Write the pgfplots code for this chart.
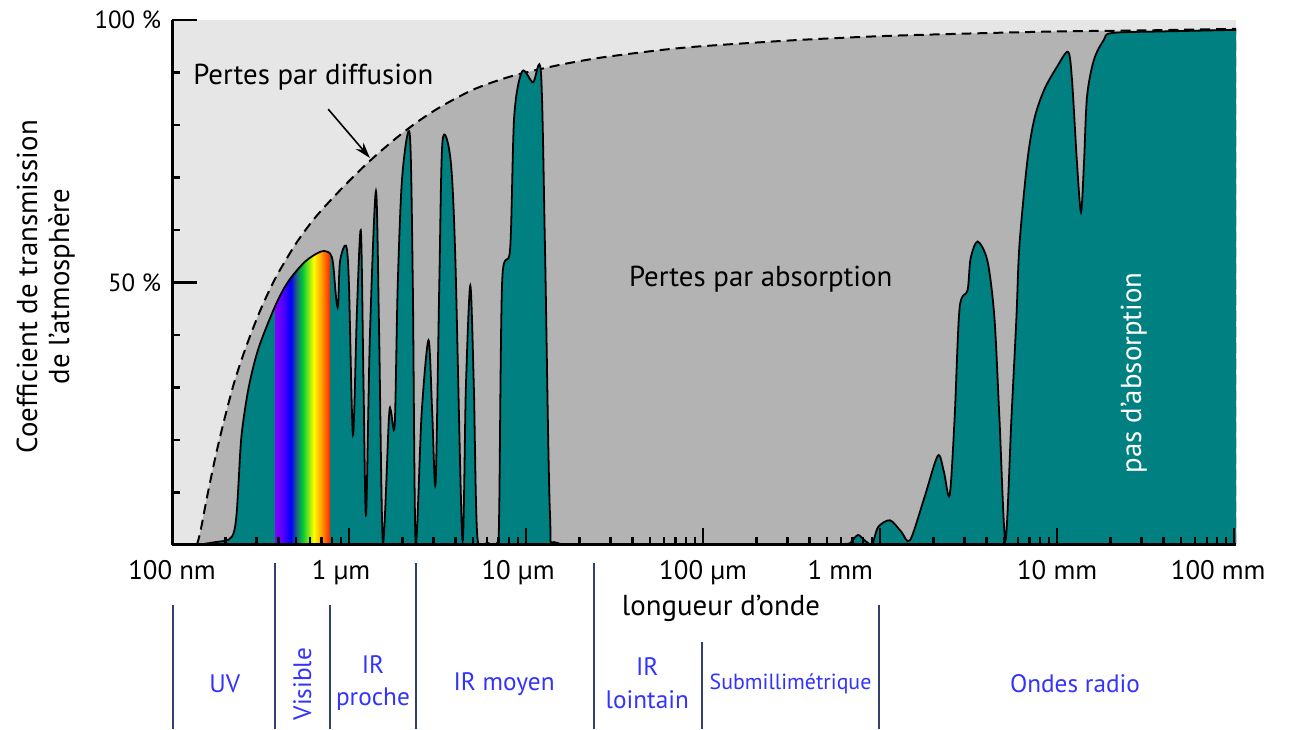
\documentclass[border=0pt]{standalone}
\usepackage{pgfplots}
\pgfplotsset{compat=1.18}
\usepackage{pgfplotstable}
\usepackage{fontspec}
\setmainfont{PT Sans}
\usetikzlibrary{arrows.meta}
\definecolor{tealc}{HTML}{008080}
\definecolor{dgray}{HTML}{B3B3B3}
\definecolor{lgray}{HTML}{E6E6E6}
\definecolor{lblue}{HTML}{3333FF}
\definecolor{navy}{HTML}{33406E}
\definecolor{c1}{HTML}{8000FF}
\definecolor{c2}{HTML}{5A00FF}
\definecolor{c3}{HTML}{0000FF}
\definecolor{c4}{HTML}{206080}
\definecolor{c5}{HTML}{00CC33}
\definecolor{c6}{HTML}{FFFF00}
\definecolor{c7}{HTML}{FFA000}
\definecolor{c8}{HTML}{FF2000}
\pgfdeclarehorizontalshading{rainbow}{100bp}{color(0bp)=(c1); color(25bp)=(c1); color(31bp)=(c2); color(39bp)=(c3); color(44bp)=(c4); color(50bp)=(c5); color(60bp)=(c6); color(67bp)=(c7); color(75bp)=(c8); color(100bp)=(c8)}

% x = decades above 100 nm (log10(lambda/100 nm)), y = transmission in %
\pgfplotstableread{
u y
0.140 0
0.160 2.5
0.200 9.5
0.250 17.5
0.300 24.5
0.350 30.8
0.400 36.0
0.450 40.6
0.500 44.8
0.550 48.5
0.600 51.8
0.700 57.4
0.800 62.0
0.900 65.8
1.000 69.3
1.100 72.6
1.200 75.6
1.300 78.4
1.400 80.9
1.500 83.1
1.600 85.0
1.700 86.7
1.800 88.0
1.900 89.1
2.000 90.0
2.200 91.5
2.400 92.7
2.600 93.6
2.800 94.4
3.000 95.0
3.500 96.1
4.000 96.9
4.500 97.4
5.000 97.8
5.500 98.0
6.011 98.3
}\scat

\pgfplotstableread{
u y
0.000 0
0.124 0
0.180 0.2
0.236 0.5
0.320 1.0
0.350 2.5
0.365 6
0.376 12
0.393 21
0.433 30
0.489 37.5
0.584 45.6
0.657 50.2
0.753 54.0
0.843 55.9
0.893 55.5
0.910 53.5
0.927 47.0
0.938 45.6
0.949 54.0
0.983 57.0
0.999 50
1.022 21.0
1.045 45
1.067 59.7
1.082 30
1.096 5.7
1.118 40
1.152 67.4
1.170 40
1.191 0.6
1.225 24
1.236 25.6
1.258 22.9
1.275 49.4
1.300 70
1.343 78.2
1.360 50
1.376 0.6
1.410 25
1.449 39.0
1.470 25
1.489 11.9
1.510 50
1.528 76.9
1.573 73.5
1.600 55
1.640 1.1
1.660 30
1.685 49.4
1.705 30
1.725 1.5
1.781 0.4
1.837 0.4
1.848 5.9
1.865 50.2
1.910 56.4
1.933 81.6
1.978 90.2
2.039 88.1
2.084 90.0
2.107 56.4
2.135 5.9
2.174 0.4
2.500 0.2
3.000 0.2
3.500 0.2
3.803 0.2
3.840 0.8
3.876 1.9
3.915 0.8
3.955 0.2
3.989 3.4
4.056 4.7
4.120 2.5
4.169 0.9
4.250 9
4.326 17.0
4.360 14
4.393 9.5
4.421 24.2
4.449 45.1
4.494 48.5
4.511 54.5
4.551 57.8
4.607 54.0
4.646 43.2
4.674 24.2
4.708 0.9
4.742 24.2
4.770 43.2
4.787 57.0
4.831 72.9
4.871 81.1
4.927 86.7
5.000 91.1
5.062 93.9
5.084 88.6
5.112 72.9
5.135 63.4
5.152 72.9
5.169 85.4
5.208 92.4
5.264 96.2
5.309 97.5
5.600 97.8
6.011 98.1
}\trans

\pgfplotstableread{
u y
0.584 45.6
0.657 50.2
0.753 54.0
0.843 55.9
0.893 55.5
}\vis

\begin{document}
\begin{tikzpicture}
\begin{axis}[
  name=ax,
  scale only axis, width=535pt, height=264pt,
  xmin=0, xmax=6.011, ymin=0, ymax=100,
  axis x line*=bottom, axis y line*=left,
  x axis line style={-, line width=1.5pt},
  y axis line style={-, line width=1.5pt},
  axis background/.style={fill=lgray},
  axis on top,
  clip mode=individual,
  tick align=inside,
  xtick={0,1,2,3,4,5,6},
  xticklabels={100 nm, {1 µm\hspace*{8pt}}, {10 µm\hspace*{8pt}}, 100 µm, {1 mm\hspace*{40pt}}, 10 mm, {100 mm\hspace*{16pt}}},
  minor xtick={0.301,0.477,0.602,0.699,0.778,0.845,0.903,0.954,1.301,1.477,1.602,1.699,1.778,1.845,1.903,1.954,2.301,2.477,2.602,2.699,2.778,2.845,2.903,2.954,3.301,3.477,3.602,3.699,3.778,3.845,3.903,3.954,4.301,4.477,4.602,4.699,4.778,4.845,4.903,4.954,5.301,5.477,5.602,5.699,5.778,5.845,5.903,5.954},
  ytick={0,50,100},
  yticklabels={,50 \%,100 \%},
  minor ytick={10,20,30,40,60,70,80,90},
  major tick length=8.5pt,
  minor tick length=4pt,
  tick style={line width=1.2pt, black},
  ticklabel style={font=\fontsize{13.5}{15}\selectfont},
  xticklabel style={yshift=-4pt},
  yticklabel style={xshift=-2pt, font=\fontsize{12.5}{15}\selectfont},
]
\addplot[fill=dgray, draw=black, line width=1pt, dash pattern=on 5pt off 3pt, smooth] table {\scat} \closedcycle;
\addplot[fill=tealc, draw=none, smooth, tension=0.5] table {\trans} \closedcycle;
\addplot[shade, shading=rainbow, draw=none, smooth, tension=0.5] table {\vis} \closedcycle;
\addplot[draw=black, line width=0.9pt, smooth, tension=0.5] table {\trans};

\draw[line width=1.2pt] (axis cs:0,50) -- ++(12.5pt,0);
\draw[line width=1.2pt] (axis cs:0,100) -- ++(12.5pt,0);

\node[font=\fontsize{14.5}{16}\selectfont] at (axis cs:0.798,89.0) {Pertes par diffusion};
\draw[-{Stealth[length=8pt,width=5pt]}, line width=0.8pt] (axis cs:0.882,83.0) -- (axis cs:1.118,73.7);
\node[font=\fontsize{14.5}{16}\selectfont] at (axis cs:3.326,50.6) {Pertes par absorption};
\node[font=\fontsize{14.5}{16}\selectfont, rotate=90, text=white] at (axis cs:5.433,32.8) {pas d'absorption};

\node[font=\fontsize{14.5}{16}\selectfont] at (axis cs:3.101,-12.1) {longueur d'onde};
\node[rotate=90, align=center, font=\fontsize{14.5}{16}\selectfont] at (rel axis cs:-0.1187,0.492) {Coefficient de transmission\\de l'atmosphère};

\draw[navy, line width=1pt] (axis cs:0.006,-11.4) -- (axis cs:0.006,-35);
\draw[navy, line width=1pt] (axis cs:0.584,-3.4) -- (axis cs:0.584,-35);
\draw[navy, line width=1pt] (axis cs:0.893,-11.4) -- (axis cs:0.893,-35);
\draw[navy, line width=1pt] (axis cs:1.376,-3.4) -- (axis cs:1.376,-35);
\draw[navy, line width=1pt] (axis cs:2.382,-3.4) -- (axis cs:2.382,-35);
\draw[navy, line width=1pt] (axis cs:2.994,-18.4) -- (axis cs:2.994,-35);
\draw[navy, line width=1pt] (axis cs:3.994,-11.4) -- (axis cs:3.994,-35);

\begin{scope}[every node/.style={text=lblue, font=\fontsize{12.7}{16.5}\selectfont, align=center}]
\node at (axis cs:0.298,-26.5) {UV};
\node[rotate=90] at (axis cs:0.736,-26.5) {Visible};
\node at (axis cs:1.135,-26.3) {IR\\proche};
\node at (axis cs:1.876,-26.5) {IR moyen};
\node at (axis cs:2.685,-26.3) {IR\\lointain};
\node[font=\fontsize{11}{13}\selectfont] at (axis cs:3.494,-26.5) {Submillimétrique};
\node at (axis cs:5.101,-26.5) {Ondes radio};
\end{scope}
\end{axis}
\path[use as bounding box] ([shift={(-86.5pt,-89.5pt)}]ax.south west) rectangle ([shift={(30.5pt,10pt)}]ax.north east);
\end{tikzpicture}
\end{document}
